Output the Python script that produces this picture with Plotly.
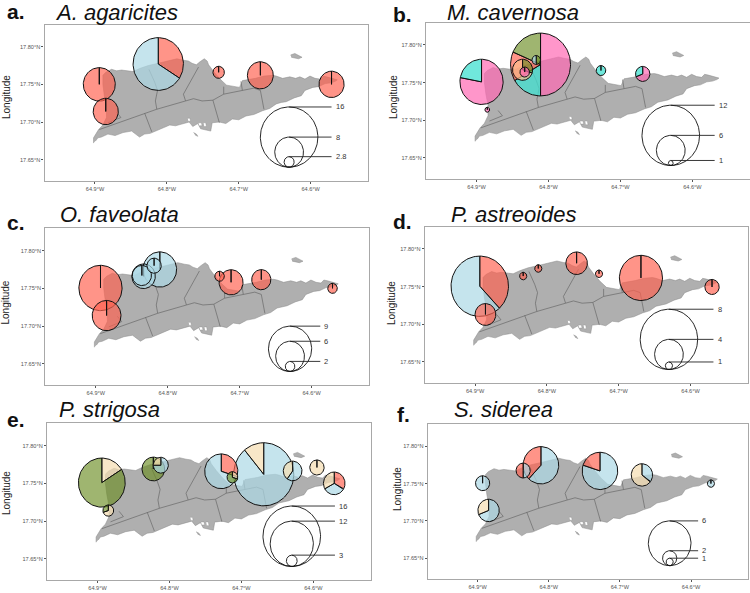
import math
import plotly.graph_objects as go

LON_RANGE = [-64.9702, -64.5203]
LAT_RANGE = [17.6217, 17.8295]
LON_TICKS = [-64.9, -64.8, -64.7, -64.6]
LON_LABELS = ["64.9°W", "64.8°W", "64.7°W", "64.6°W"]
LAT_TICKS = [17.65, 17.70, 17.75, 17.80]
LAT_LABELS = ["17.65°N", "17.70°N", "17.75°N", "17.80°N"]

ISLAND_LON = [-64.902, -64.902, -64.895, -64.889, -64.884, -64.884, -64.887, -64.889, -64.889, -64.885, -64.877,
              -64.870, -64.863, -64.847, -64.838, -64.826, -64.812, -64.800, -64.786, -64.777, -64.770, -64.765,
              -64.759, -64.754, -64.748, -64.744, -64.742, -64.735, -64.731, -64.726, -64.717, -64.707, -64.699,
              -64.695, -64.687, -64.677, -64.665, -64.653, -64.648, -64.639, -64.629, -64.621, -64.615, -64.608,
              -64.601, -64.594, -64.587, -64.583, -64.578, -64.572, -64.563, -64.566, -64.572, -64.580, -64.589,
              -64.597, -64.608, -64.613, -64.623, -64.634, -64.641, -64.648, -64.657, -64.667, -64.679, -64.690,
              -64.700, -64.709, -64.718, -64.727, -64.735, -64.737, -64.739, -64.746, -64.753, -64.757, -64.764,
              -64.769, -64.779, -64.788, -64.796, -64.805, -64.814, -64.823, -64.831, -64.838, -64.849, -64.861,
              -64.872, -64.882, -64.891, -64.896, -64.899]
ISLAND_LAT = [17.672, 17.679, 17.690, 17.696, 17.706, 17.720, 17.735, 17.750, 17.762, 17.766, 17.770,
              17.768, 17.769, 17.767, 17.771, 17.775, 17.778, 17.781, 17.784, 17.782, 17.781, 17.778,
              17.776, 17.780, 17.784, 17.781, 17.776, 17.767, 17.762, 17.757, 17.749, 17.747, 17.746,
              17.755, 17.756, 17.758, 17.761, 17.762, 17.761, 17.758, 17.760, 17.758, 17.760, 17.757,
              17.761, 17.758, 17.757, 17.761, 17.760, 17.758, 17.756, 17.754, 17.752, 17.751, 17.747,
              17.746, 17.742, 17.735, 17.732, 17.727, 17.726, 17.724, 17.718, 17.715, 17.710, 17.708,
              17.703, 17.704, 17.698, 17.700, 17.699, 17.699, 17.688, 17.690, 17.691, 17.698, 17.694,
              17.700, 17.697, 17.695, 17.696, 17.692, 17.688, 17.685, 17.684, 17.680, 17.688, 17.686,
              17.682, 17.684, 17.680, 17.679, 17.675]
CAY_LON = [-64.628, -64.622, -64.616, -64.612, -64.617, -64.623, -64.627, None, -64.763, -64.759, -64.757, -64.761]
CAY_LAT = [17.789, 17.791, 17.788, 17.786, 17.784, 17.785, 17.786, None, 17.686, 17.684, 17.681, 17.683]
POND_LON = [-64.771, -64.768, -64.767, -64.770, None, -64.756, -64.752, -64.751, -64.755, None, -64.749, -64.746, -64.745, -64.748]
POND_LAT = [17.705, 17.705, 17.701, 17.701, None, 17.699, 17.699, 17.695, 17.695, None, 17.699, 17.699, 17.694, 17.694]

BOUNDARY_LON = [-64.894, -64.831, -64.814, -64.774, -64.763, -64.751, -64.736, -64.721, -64.679, -64.670, -64.665, None,
                -64.736, -64.727, None,
                -64.831, -64.821, None,
                -64.814, -64.816, -64.813, -64.817, -64.825, None,
                -64.774, -64.777, -64.756, None,
                -64.721, -64.721, None,
                -64.695, -64.697, None,
                -64.882, -64.864, -64.870]
BOUNDARY_LAT = [17.690, 17.712, 17.717, 17.728, 17.731, 17.728, 17.729, 17.737, 17.745, 17.742, 17.717, None,
                17.729, 17.699, None,
                17.712, 17.687, None,
                17.717, 17.728, 17.742, 17.753, 17.770, None,
                17.728, 17.737, 17.773, None,
                17.737, 17.747, None,
                17.742, 17.754, None,
                17.699, 17.706, 17.713]

FILLS = {
    "red": "rgba(255,98,80,0.68)",
    "blue": "rgba(173,216,230,0.70)",
    "green": "rgba(107,142,35,0.65)",
    "beige": "rgba(245,222,179,0.72)",
    "pink": "rgba(255,105,180,0.70)",
    "teal": "rgba(64,224,208,0.75)",
    "peach": "rgba(255,190,140,0.70)",
}

# Each site: lon, lat, sample count, {category: share} clockwise from north
A_SITES = [
    (-64.894, 17.750, 8.9, [("red", 1.0)]),
    (-64.885, 17.714, 7.0, [("red", 1.0)]),
    (-64.812, 17.777, 14.0, [("red", 0.34), ("blue", 0.66)]),
    (-64.728, 17.766, 3.2, [("red", 1.0)]),
    (-64.670, 17.762, 7.2, [("red", 1.0)]),
    (-64.571, 17.750, 7.0, [("red", 1.0)]),
]
B_SITES = [
    (-64.893, 17.751, 9.0, [("pink", 0.78), ("teal", 0.22)]),
    (-64.885, 17.714, 1.0, [("pink", 1.0)]),
    (-64.811, 17.774, 12.5, [("pink", 0.50), ("teal", 0.165), ("red", 0.15), ("green", 0.185)]),
    (-64.836, 17.767, 4.2, [("green", 0.30), ("peach", 0.70)]),
    (-64.833, 17.764, 2.0, [("pink", 1.0)]),
    (-64.817, 17.780, 1.8, [("green", 0.5), ("blue", 0.5)]),
    (-64.727, 17.766, 2.0, [("teal", 1.0)]),
    (-64.669, 17.7615, 3.0, [("pink", 0.69), ("teal", 0.31)]),
]
C_SITES = [
    (-64.8935, 17.7505, 9.0, [("red", 1.0)]),
    (-64.885, 17.714, 6.0, [("red", 1.0)]),
    (-64.811, 17.775, 7.0, [("blue", 1.0)]),
    (-64.8336, 17.766, 4.9, [("blue", 1.0)]),
    (-64.836, 17.767, 4.0, [("blue", 1.0)]),
    (-64.819, 17.780, 3.0, [("blue", 1.0)]),
    (-64.712, 17.758, 5.0, [("red", 1.0)]),
    (-64.728, 17.766, 2.0, [("red", 1.0)]),
    (-64.670, 17.7615, 4.0, [("red", 1.0)]),
    (-64.571, 17.750, 2.0, [("red", 1.0)]),
]
D_SITES = [
    (-64.8935, 17.7505, 8.0, [("red", 0.38), ("blue", 0.62)]),
    (-64.8856, 17.713, 2.9, [("red", 1.0)]),
    (-64.833, 17.764, 1.0, [("red", 1.0)]),
    (-64.812, 17.774, 1.0, [("red", 1.0)]),
    (-64.7586, 17.781, 3.0, [("red", 1.0)]),
    (-64.7274, 17.767, 1.0, [("red", 1.0)]),
    (-64.669, 17.7615, 6.0, [("red", 1.0)]),
    (-64.570, 17.7495, 2.0, [("red", 1.0)]),
]
E_SITES = [
    (-64.894, 17.751, 13.0, [("beige", 0.16), ("green", 0.84)]),
    (-64.885, 17.714, 3.0, [("beige", 0.70), ("green", 0.30)]),
    (-64.8224, 17.769, 6.3, [("green", 1.0)]),
    (-64.812, 17.774, 4.2, [("blue", 0.75), ("beige", 0.25)]),
    (-64.669, 17.762, 16.7, [("blue", 0.89), ("beige", 0.11)]),
    (-64.728, 17.766, 9.2, [("red", 0.30), ("blue", 0.70)]),
    (-64.7125, 17.758, 3.0, [("beige", 0.30), ("green", 0.70)]),
    (-64.6288, 17.7664, 5.2, [("blue", 0.60), ("beige", 0.40)]),
    (-64.595, 17.771, 4.0, [("beige", 1.0)]),
    (-64.571, 17.750, 6.0, [("red", 0.33), ("blue", 0.34), ("beige", 0.33)]),
]
F_SITES = [
    (-64.893, 17.7505, 2.0, [("blue", 1.0)]),
    (-64.8846, 17.714, 3.0, [("blue", 0.69), ("beige", 0.31)]),
    (-64.811, 17.7746, 5.0, [("blue", 0.62), ("red", 0.38)]),
    (-64.836, 17.7675, 2.0, [("blue", 0.5), ("red", 0.5)]),
    (-64.728, 17.767, 5.0, [("blue", 0.80), ("red", 0.20)]),
    (-64.669, 17.7616, 3.0, [("blue", 0.35), ("beige", 0.65)]),
    (-64.572, 17.750, 1.0, [("blue", 1.0)]),
]

# panel geometry in pixels and text placement
PANELS = [
    dict(sites=A_SITES, unit=0.0025, sizes=[16, 8, 2.8], labels=["16", "8", "2.8"], end=-64.571, box=(44.5, 368, 24.5, 181),
         letter="a.", lpos=(5, 11), title="A. agaricites", tpos=(53, 12.8), ypos=(6, 97)),
    dict(sites=B_SITES, unit=0.04 / 12, sizes=[12, 6, 1], labels=["12", "6", "1"], end=-64.569, box=(426, 749.7, 22.7, 179.3),
         letter="b.", lpos=(391, 14), title="M. cavernosa", tpos=(445, 12.8), ypos=(393, 97)),
    dict(sites=C_SITES, unit=0.03 / 9, sizes=[9, 6, 2], labels=["9", "6", "2"], end=-64.588, box=(45.3, 369, 228.3, 385.3),
         letter="c.", lpos=(5, 222), title="O. faveolata", tpos=(58, 214), ypos=(4.5, 303)),
    dict(sites=D_SITES, unit=0.005, sizes=[8, 4, 1], labels=["8", "4", "1"], end=-64.568, box=(424.7, 747.7, 226.7, 383.3),
         letter="d.", lpos=(391, 221), title="P. astreoides", tpos=(449, 214), ypos=(391, 303)),
    dict(sites=E_SITES, unit=0.0025, sizes=[16, 12, 3], labels=["16", "12", "3"], end=-64.570, box=(47, 370.7, 423.3, 580.3),
         letter="e.", lpos=(5, 419), title="P. strigosa", tpos=(57, 409), ypos=(6, 493)),
    dict(sites=F_SITES, unit=0.005, sizes=[6, 2, 1], labels=["6", "2", "1"], end=-64.590, box=(427.7, 747.7, 424.3, 579.3),
         letter="f.", lpos=(395, 414), title="S. siderea", tpos=(452, 409), ypos=(397, 489)),
]
LEGEND_LON = -64.630
LEGEND_BASE = 17.640

W, H = 750, 593
FONT = "Liberation Sans"
fig = go.Figure()
annotations = []
layout_axes = {}


def arc(lon, lat, r, a0, a1):
    steps = max(3, int(abs(a1 - a0) * 120))
    xs, ys = [], []
    for k in range(steps + 1):
        t = 2 * math.pi * (a0 + (a1 - a0) * k / steps)
        xs.append(lon + r * math.sin(t))
        ys.append(lat + r * math.cos(t))
    return xs, ys


for i, p in enumerate(PANELS):
    sfx = "" if i == 0 else str(i + 1)
    xa, ya = "x" + sfx, "y" + sfx
    x0, x1, y0, y1 = p["box"]
    layout_axes["xaxis" + sfx] = dict(
        domain=[x0 / W, x1 / W], range=LON_RANGE, anchor=ya, tickvals=LON_TICKS, ticktext=LON_LABELS,
        ticks="outside", ticklen=2, tickwidth=0.6, tickcolor="#555", showgrid=False, zeroline=False,
        showline=True, mirror=True, linecolor="#A8A8A8", linewidth=1.2,
        tickfont=dict(family=FONT, size=5.6, color="#555"))
    layout_axes["yaxis" + sfx] = dict(
        domain=[1 - y1 / H, 1 - y0 / H], range=LAT_RANGE, anchor=xa, tickvals=LAT_TICKS, ticktext=LAT_LABELS,
        ticks="outside", ticklen=2, tickwidth=0.6, tickcolor="#555", showgrid=False, zeroline=False,
        showline=True, mirror=True, linecolor="#A8A8A8", linewidth=1.2,
        tickfont=dict(family=FONT, size=5.6, color="#555"))

    common = dict(xaxis=xa, yaxis=ya, showlegend=False, hoverinfo="skip")
    for lons, lats in ((ISLAND_LON, ISLAND_LAT), (CAY_LON, CAY_LAT)):
        fig.add_trace(go.Scatter(x=lons, y=lats, mode="lines", fill="toself", fillcolor="#AFAFAF",
                                 line=dict(color="#8a8a8a", width=0.5), **common))
    fig.add_trace(go.Scatter(x=POND_LON, y=POND_LAT, mode="lines", fill="toself", fillcolor="#FFFFFF",
                             line=dict(color="#8a8a8a", width=0.4), **common))
    fig.add_trace(go.Scatter(x=BOUNDARY_LON, y=BOUNDARY_LAT, mode="lines",
                             line=dict(color="#696969", width=0.7), **common))

    for lon, lat, n, shares in p["sites"]:
        r = n * p["unit"]
        start = 0.0
        for cat, share in shares:
            xs, ys = arc(lon, lat, r, start, start + share)
            fig.add_trace(go.Scatter(x=[lon] + xs + [lon], y=[lat] + ys + [lat], mode="lines", fill="toself",
                                     fillcolor=FILLS[cat], line=dict(color="#111", width=1), **common))
            start += share

    for n, lab in zip(p["sizes"], p["labels"]):
        r = n * p["unit"]
        xs, ys = arc(LEGEND_LON, LEGEND_BASE + r, r, 0, 1)
        fig.add_trace(go.Scatter(x=xs, y=ys, mode="lines", line=dict(color="#111", width=0.9), **common))
        top = LEGEND_BASE + 2 * r
        fig.add_trace(go.Scatter(x=[LEGEND_LON, p["end"]], y=[top, top], mode="lines",
                                 line=dict(color="#222", width=0.9), **common))
        annotations.append(dict(x=p["end"] + 0.003, y=top, xref=xa, yref=ya, text=lab, showarrow=False,
                                xanchor="left", yanchor="middle", font=dict(family=FONT, size=7.5, color="#333")))

    annotations.append(dict(x=p["lpos"][0] / W, y=1 - p["lpos"][1] / H, xref="paper", yref="paper", text="<b>%s</b>" % p["letter"],
                            showarrow=False, xanchor="left", yanchor="middle", font=dict(family=FONT, size=21, color="#111")))
    annotations.append(dict(x=p["tpos"][0] / W, y=1 - p["tpos"][1] / H, xref="paper", yref="paper", text="<i>%s</i>" % p["title"],
                            showarrow=False, xanchor="left", yanchor="middle", font=dict(family=FONT, size=22, color="#111")))
    annotations.append(dict(x=p["ypos"][0] / W, y=1 - p["ypos"][1] / H, xref="paper", yref="paper", text="Longitude", textangle=-90,
                            showarrow=False, xanchor="center", yanchor="middle", font=dict(family=FONT, size=10, color="#222")))

fig.update_layout(width=W, height=H, autosize=False, margin=dict(l=0, r=0, t=0, b=0), paper_bgcolor="white",
                  plot_bgcolor="white", showlegend=False, annotations=annotations, **layout_axes)
fig.write_html("out.html", config=dict(displayModeBar=False),
               post_script="document.body.style.margin='0';document.documentElement.style.overflow='hidden';")
